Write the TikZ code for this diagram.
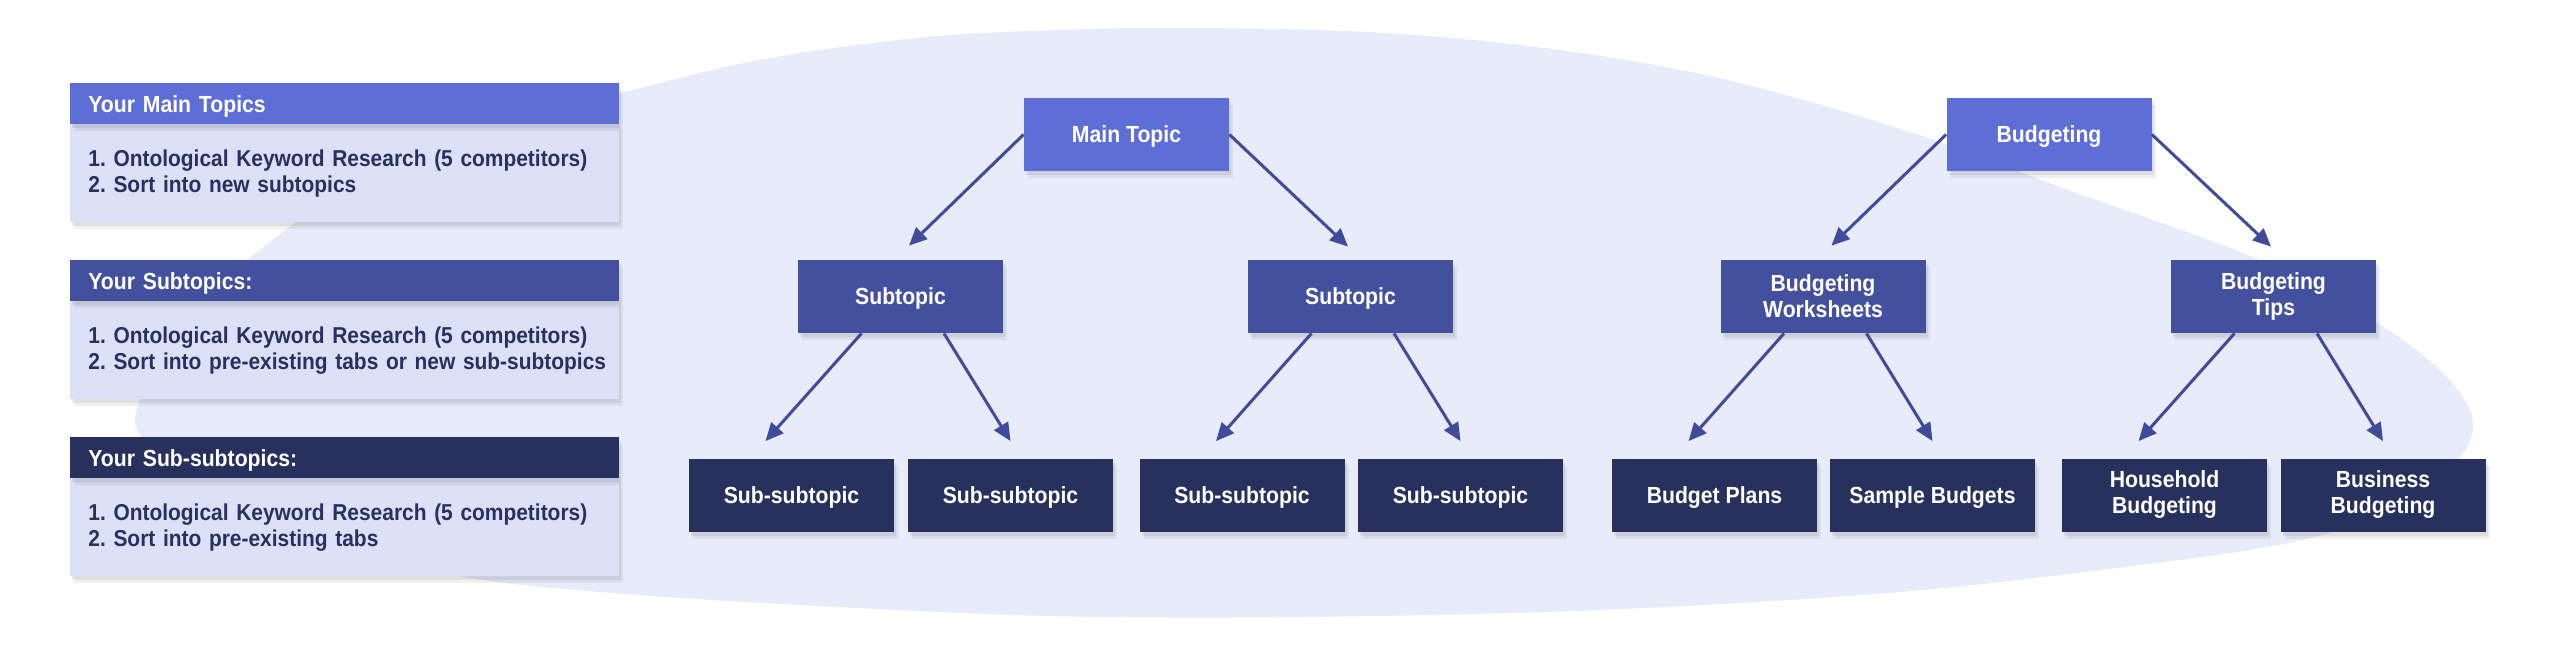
\documentclass[tikz,border=0pt]{standalone}
\usepackage{fontspec}
\newfontfamily\rb{Liberation Sans}[FakeStretch=0.91]
\usetikzlibrary{arrows.meta,shadows}
\definecolor{cTop}{HTML}{5D6FD6}
\definecolor{cMid}{HTML}{43509E}
\definecolor{cLow}{HTML}{28305E}
\definecolor{cArrow}{HTML}{3F4B9B}
\definecolor{cBlob}{HTML}{E8EBFA}
\definecolor{cPanel}{HTML}{DDE1F8}
\definecolor{cText}{HTML}{283060}
\frenchspacing
\begin{document}
\begin{tikzpicture}[x=0.5pt,y=-0.5pt,
  font=\rb\bfseries\fontsize{11.65pt}{13pt}\selectfont\frenchspacing,
  softshadow/.style={drop shadow={shadow xshift=1pt,shadow yshift=-2pt,opacity=0.07,fill=black},
                     drop shadow={shadow xshift=2pt,shadow yshift=-3.5pt,opacity=0.06,fill=black}},
  box/.style={minimum width=102.5pt,minimum height=36.5pt,inner sep=0pt,text=white,align=center,softshadow},
  oneline/.style={text height=8.35pt,text depth=0pt},
  toplvl/.style={box,fill=cTop},
  midlvl/.style={box,fill=cMid},
  lowlvl/.style={box,fill=cLow},
  conn/.style={draw=cArrow,line width=1.5pt,-{Triangle[length=9pt,width=8pt]}},
  header/.style={anchor=north west,minimum height=20.5pt,inner xsep=9pt,inner ysep=0pt,
                 text width=256.5pt,align=left,text=white,text height=8.35pt,text depth=0pt,softshadow},
  panelbody/.style={anchor=north west,fill=cPanel,minimum width=274.5pt,minimum height=49pt,inner sep=0pt,softshadow},
  bodytext/.style={anchor=north west,minimum height=49pt,inner xsep=9pt,inner ysep=0pt,
                 text width=275pt,align=left,text=cText,
                 font=\rb\bfseries\fontsize{11.5pt}{13pt}\selectfont\frenchspacing}
]
\fill[white] (0,0) rectangle (2560,653);
\useasboundingbox (0,0) rectangle (2560,653);

% background blob
\fill[cBlob] plot[smooth cycle, tension=0.55] coordinates {
 (135,420) (160,360) (200,305) (250,258) (330,200) (470,130) (625,92) (734,65)
 (842,47) (951,35) (1059,30) (1146,28) (1276,29) (1385,33) (1493,42) (1601,56)
 (1710,76) (1818,104) (1940,142) (2060,187) (2260,260) (2377,323) (2443,373)
 (2472,417) (2460,457) (2393,510) (2293,542) (2140,565) (1900,592) (1600,610)
 (1300,617) (1050,616) (800,605) (600,592) (460,576) (330,540) (220,490) (160,455)};

% legend panels
\node[panelbody] (p1body) at (70,124) {};
\node[bodytext] (p1text) at (p1body.north west) {1. Ontological Keyword Research (5 competitors)\\2. Sort into new subtopics};
\node[header,fill=cTop] (p1head) at (70,83) {Your Main Topics};
\node[panelbody] (p2body) at (70,301) {};
\node[bodytext] (p2text) at (p2body.north west) {1. Ontological Keyword Research (5 competitors)\\2. Sort into pre-existing tabs or new sub-subtopics};
\node[header,fill=cMid] (p2head) at (70,260) {Your Subtopics:};
\node[panelbody] (p3body) at (70,478) {};
\node[bodytext] (p3text) at (p3body.north west) {1. Ontological Keyword Research (5 competitors)\\2. Sort into pre-existing tabs};
\node[header,fill=cLow] (p3head) at (70,437) {Your Sub-subtopics:};

% generic tree
\node[toplvl,oneline] (main) at (1126.5,134.5) {Main Topic};
\node[midlvl,oneline] (subA) at (900.5,296.5) {Subtopic};
\node[midlvl,oneline] (subB) at (1350.5,296.5) {Subtopic};
\node[lowlvl,oneline] (ssA) at (791.5,495) {Sub-subtopic};
\node[lowlvl,oneline] (ssB) at (1010.5,495) {Sub-subtopic};
\node[lowlvl,oneline] (ssC) at (1242,495) {Sub-subtopic};
\node[lowlvl,oneline] (ssD) at (1460.5,495) {Sub-subtopic};

% budgeting tree
\node[toplvl,oneline] (bud) at (2049,134.5) {Budgeting};
\node[midlvl] (bw) at (1823,296.5) {Budgeting\\Worksheets};
\node[midlvl] (bt) at (2273.5,296.5) {Budgeting\\Tips};
\node[lowlvl,oneline] (bp) at (1714.5,495) {Budget Plans};
\node[lowlvl,oneline] (sb) at (1932.5,495) {Sample Budgets};
\node[lowlvl] (hh) at (2164.5,495) {Household\\Budgeting};
\node[lowlvl] (bb) at (2383,495) {Business\\Budgeting};

% connectors
\draw[conn] (main.west) -- ([xshift=4.25pt,yshift=7pt]subA.north);
\draw[conn] (main.east) -- ([xshift=-1.25pt,yshift=6.5pt]subB.north);
\draw[conn] ([xshift=-19.5pt]subA.south) -- ([xshift=-13pt,yshift=8.5pt]ssA.north);
\draw[conn] ([xshift=21.75pt]subA.south) -- ([yshift=8.5pt]ssB.north);
\draw[conn] ([xshift=-19.5pt]subB.south) -- ([xshift=-13pt,yshift=8.5pt]ssC.north);
\draw[conn] ([xshift=21.75pt]subB.south) -- ([yshift=8.5pt]ssD.north);

\draw[conn] (bud.west) -- ([xshift=4.25pt,yshift=7pt]bw.north);
\draw[conn] (bud.east) -- ([xshift=-1.25pt,yshift=6.5pt]bt.north);
\draw[conn] ([xshift=-19.5pt]bw.south) -- ([xshift=-13pt,yshift=8.5pt]bp.north);
\draw[conn] ([xshift=21.75pt]bw.south) -- ([yshift=8.5pt]sb.north);
\draw[conn] ([xshift=-19.5pt]bt.south) -- ([xshift=-13pt,yshift=8.5pt]hh.north);
\draw[conn] ([xshift=21.75pt]bt.south) -- ([yshift=8.5pt]bb.north);
\end{tikzpicture}
\end{document}
